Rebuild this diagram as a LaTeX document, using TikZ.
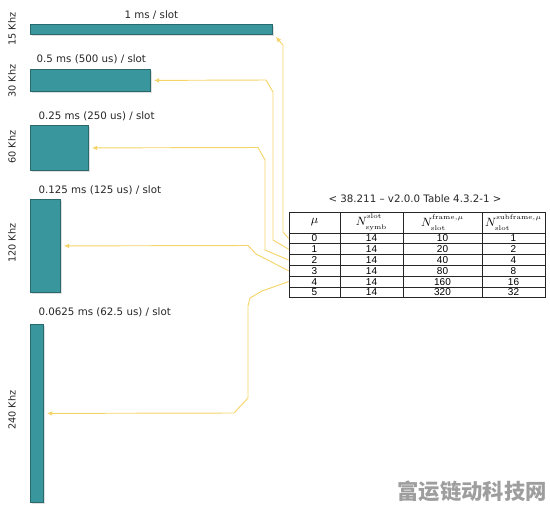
\documentclass[tikz,border=0pt]{standalone}
\usepackage{fontspec}
\usepackage{amsmath}
\usepackage{tikz}
\usepackage{xcolor}
\usetikzlibrary{positioning, arrows.meta, shadows}
\newfontfamily\verdanalike{DejaVu Sans}
\newfontfamily\arialike{Liberation Sans}
\newfontfamily\cjkfont{Noto Sans CJK SC}
\definecolor{barteal}{RGB}{56,150,156}
\definecolor{feedyellow}{RGB}{245,212,105}
% N with small upper and lower index, kept apart a little
\newcommand{\nidx}[2]{N^{\scriptscriptstyle\mathrm{#1}\rule[-2.2pt]{0pt}{1pt}}_{\rule{0pt}{4.2pt}\scriptscriptstyle\mathrm{#2}}}
\tikzset{
    slotbar/.style={rectangle, fill=barteal, draw=barteal!70!black, line width=0.6pt, inner sep=0pt, anchor=north west,
        drop shadow={opacity=0.25, shadow xshift=0.9pt, shadow yshift=-0.9pt}},
    slotlabel/.style={font=\verdanalike\fontsize{7.7}{9}\selectfont, inner sep=1pt, text=black!85},
    freqlabel/.style={font=\verdanalike\fontsize{7.3}{8}\selectfont, rotate=90, inner sep=1pt, text=black!85},
    tabcell/.style={draw=black!85, line width=0.55pt, inner sep=0pt, font=\arialike\fontsize{7.5}{8}\selectfont, minimum height=8.1pt},
    headcell/.style={tabcell, minimum height=15.75pt, font=\fontsize{9}{10}\selectfont},
    feed/.style={draw=feedyellow, line width=0.7pt, -{Latex[length=4pt, width=3.5pt]}}
}

\begin{document}
\begin{tikzpicture}[x=0.75pt, y=-0.75pt]
\useasboundingbox (0,0) rectangle (550,508);

% Bars
\node[slotbar, minimum width=181.5pt, minimum height=7.5pt] (bar15) at (30,24) {};
\node[slotbar, minimum width=90pt, minimum height=16.5pt] (bar30) at (30,69) {};
\node[slotbar, minimum width=43.5pt, minimum height=33.75pt] (bar60) at (30,125) {};
\node[slotbar, minimum width=22.5pt, minimum height=69.75pt] (bar120) at (30,199) {};
\node[slotbar, minimum width=9.75pt, minimum height=133.5pt] (bar240) at (30,324) {};

% Slot lengths
\node[slotlabel, above=2pt of bar15] (len15) {1 ms / slot};
\node[slotlabel, anchor=west] (len30) at (35,59) {0.5 ms (500 us) / slot};
\node[slotlabel, anchor=west] (len60) at (37,116) {0.25 ms (250 us) / slot};
\node[slotlabel, anchor=west] (len120) at (37,190) {0.125 ms (125 us) / slot};
\node[slotlabel, anchor=west] (len240) at (37,312) {0.0625 ms (62.5 us) / slot};

% Subcarrier spacing
\node[freqlabel] (scs15) at (12,29) {15 Khz};
\node[freqlabel] (scs30) at (12,81) {30 Khz};
\node[freqlabel] (scs60) at (12,147) {60 Khz};
\node[freqlabel] (scs120) at (12,243) {120 Khz};
\node[freqlabel] (scs240) at (12,410) {240 Khz};

% Table
\node[slotlabel] (tabtitle) at (415,199) {< 38.211 – v2.0.0 Table 4.3.2-1 >};
\node[headcell, minimum width=38.25pt] (hmu) at (314.5,222.5) {$\mu$};
\node[headcell, minimum width=47.25pt] (hsymb) at (371.5,222.5) {$\nidx{slot}{symb}$};
\node[headcell, minimum width=59.25pt] (hframe) at (442.5,222.5) {$\nidx{frame,\mu}{slot}$};
\node[headcell, minimum width=47.25pt] (hsub) at (513.5,222.5) {$\nidx{subframe,\mu}{slot}$};
\foreach \fr/\sf [count=\i from 0] in {10/1, 20/2, 40/4, 80/8, 160/16, 320/32} {
    \node[tabcell, minimum width=38.25pt] (mu\i) at (314.5,238.4+10.8*\i) {\i};
    \node[tabcell, minimum width=47.25pt] (symb\i) at (371.5,238.4+10.8*\i) {14};
    \node[tabcell, minimum width=59.25pt] (frame\i) at (442.5,238.4+10.8*\i) {\fr};
    \node[tabcell, minimum width=47.25pt] (sub\i) at (513.5,238.4+10.8*\i) {\sf};
}

% Connectors
\draw[feed] (mu0.west) -- (283,232) -- (283,45) -- ([shift={(3,2)}]bar15.south east);
\draw[feed] (mu1.west) -- (273,240) -- (273,92) -- (266,80) -- ([xshift=2.25pt]bar30.east);
\draw[feed] (mu2.west) -- (265,250) -- (265,160) -- (258,147.5) -- ([xshift=2.25pt]bar60.east);
\draw[feed] (mu3.west) -- (256,254) -- (248,245.5) -- ([xshift=2.25pt]bar120.east);
\draw[feed] (mu4.west) -- (262,291) -- (250,298) -- (248,306) -- (248,398) -- (234,413) -- ([xshift=2.25pt]bar240.east);

% Watermark
\node[font=\cjkfont\bfseries\fontsize{16}{18}\selectfont, text=black!38] (mark) at (472,491) {富运链动科技网};

\end{tikzpicture}
\end{document}
